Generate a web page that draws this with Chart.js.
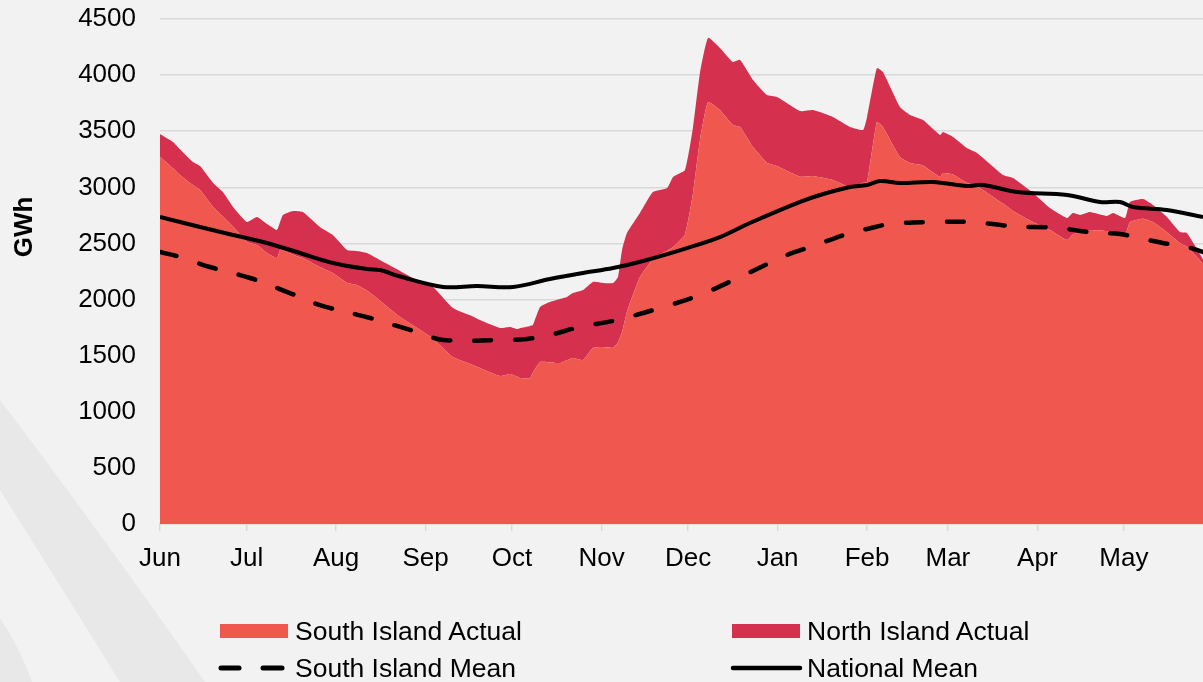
<!DOCTYPE html>
<html>
<head>
<meta charset="utf-8">
<script src="https://cdn.jsdelivr.net/npm/chart.js@4.4.1/dist/chart.umd.min.js"></script>
<style>
  html, body { margin:0; padding:0; background:#F2F2F2; }
  #wrap { position:relative; width:1203px; height:682px; overflow:hidden; background:#F2F2F2;
          font-family:"Liberation Sans", Arial, sans-serif; }
  #bg { position:absolute; left:0; top:0; }
  #c { position:absolute; left:0; top:0; }
  #ylab { position:absolute; left:23px; top:227px; transform:translate(-50%,-50%) rotate(-90deg);
          font-weight:bold; font-size:26px; color:#000; white-space:nowrap; }
  .lt { position:absolute; font-size:26.5px; line-height:30px; color:#000; white-space:nowrap; }
</style>
</head>
<body>
<div id="wrap">
  <svg id="bg" width="1203" height="682">
    <path d="M0 400 Q 95 525 205 682 L 120 682 Q 60 585 0 490 Z" fill="#E8E8E8"/>
    <path d="M0 618 Q 20 648 32 682 L 0 682 Z" fill="#E8E8E8"/>
  </svg>
  <canvas id="c" width="1203" height="682"></canvas>
  <div id="ylab">GWh</div>
  <svg style="position:absolute;left:0;top:0" width="1203" height="682">
    <rect x="220" y="624" width="68" height="14" fill="#F0584F"/>
    <line x1="221" y1="668" x2="239" y2="668" stroke="#000" stroke-width="5" stroke-linecap="round"/>
    <line x1="263" y1="668" x2="282" y2="668" stroke="#000" stroke-width="5" stroke-linecap="round"/>
    <rect x="732" y="624" width="68" height="14" fill="#D5314E"/>
    <line x1="733" y1="668" x2="800" y2="668" stroke="#000" stroke-width="4.5" stroke-linecap="round"/>
  </svg>
  <div class="lt" style="left:295px;top:616px">South Island Actual</div>
  <div class="lt" style="left:807px;top:616px">North Island Actual</div>
  <div class="lt" style="left:295px;top:653px">South Island Mean</div>
  <div class="lt" style="left:807px;top:653px">National Mean</div>
</div>
<script>
// x = days since 1 June
const monthDays = [0, 30, 61, 92, 122, 153, 183, 214, 245, 273, 304, 334];
const monthLabels = ["Jun","Jul","Aug","Sep","Oct","Nov","Dec","Jan","Feb","Mar","Apr","May"];
const yTicks = [0,500,1000,1500,2000,2500,3000,3500,4000,4500];

const actualDays = [0,4.5,6.9,11.4,13.9,18.4,21.8,25.3,30.1,33.6,37.1,40.5,41.6,42.6,46.1,49.5,55.4,59.9,64.8,68.2,71.7,76.2,83.2,90.1,94.6,101.5,108.4,110.9,117.8,121.3,123.7,124.7,128.2,129.2,131.7,135.1,138.6,141.0,143.1,146.6,150.0,153.5,157.0,158.7,160.1,161.8,166.3,170.8,175.7,177.8,181.9,184.7,187.1,189.9,194.0,198.5,201.0,205.5,210.3,213.8,221.8,226.3,233.2,239.1,243.6,245.0,248.4,250.5,256.4,259.9,264.4,270.3,271.3,274.8,279.6,283.1,292.1,295.6,302.5,308.4,314.3,316.3,318.8,322.2,328.1,330.2,334.4,336.1,340.6,344.1,348.9,353.4,355.8,361.4];

const southActual = [3273,3170,3110,3020,2976,2825,2740,2650,2513,2486,2415,2370,2442,2440,2400,2370,2290,2237,2150,2130,2080,1990,1845,1730,1650,1488,1417,1390,1319,1337,1315,1301,1301,1350,1444,1440,1435,1460,1479,1461,1568,1577,1570,1620,1710,1890,2200,2360,2435,2468,2580,2950,3422,3760,3689,3555,3538,3359,3220,3190,3095,3101,3065,3000,3040,3047,3582,3538,3270,3217,3195,3092,3128,3115,3040,3010,2855,2790,2691,2620,2531,2580,2600,2620,2610,2600,2575,2690,2720,2690,2600,2504,2470,2320];

const northActual = [202,234,230,206,214,214,218,175,178,250,258,250,248,314,389,410,357,338,292,303,335,363,410,427,462,437,433,428,428,419,423,444,464,423,490,538,570,563,579,624,589,571,578,581,732,703,571,598,559,624,574,588,597,571,553,562,597,597,602,615,585,588,562,538,471,580,481,490,446,428,405,374,365,334,310,296,255,293,259,196,196,191,154,160,135,171,152,179,176,153,136,98,123,40];

const nationalMeanDays = [0,13.9,25.3,37.1,48.5,59.9,71.7,76.2,83.2,98.1,109.8,122.3,135.1,146.6,157,167.4,182.6,194,204.4,221.8,228.7,239.1,245,249.5,256.4,267.8,279.6,285.2,297,314.3,325.7,332.6,337.1,348.9,361.4];
const nationalMean = [2736,2647,2575,2504,2415,2326,2272,2263,2205,2112,2121,2112,2183,2237,2281,2344,2459,2557,2682,2870,2932,3003,3021,3056,3039,3047,3012,3021,2958,2932,2869,2869,2825,2798,2736];

const southMeanDays = [0,6.9,17.3,31.2,45,55.4,72.8,83.2,90.1,98.1,117.8,127.2,135.1,145.5,158.4,173.3,187.1,201,217.3,225.2,239.1,245,253,267.8,281.7,288.6,297,302.5,311.9,318.8,325.7,332.6,340.6,347.5,355.8,361.4];
const southMean = [2424,2379,2290,2192,2058,1951,1836,1756,1702,1640,1640,1649,1684,1756,1818,1925,2041,2201,2397,2468,2593,2629,2673,2691,2691,2673,2647,2647,2638,2611,2593,2584,2540,2504,2468,2424];

const pts = (xs, ys) => xs.map((x, i) => ({x: x, y: ys[i]}));
const FONT = '"Liberation Sans", Arial, sans-serif';

new Chart(document.getElementById('c'), {
  type: 'line',
  data: {
    datasets: [
      { label: 'South Island Actual', data: pts(actualDays, southActual), stack: 'actual',
        backgroundColor: '#F0584F', borderWidth: 0, pointRadius: 0, fill: 'origin', tension: 0.15, order: 2 },
      { label: 'North Island Actual', data: pts(actualDays, northActual), stack: 'actual',
        backgroundColor: '#D5314E', borderWidth: 0, pointRadius: 0, fill: '-1', tension: 0.15, order: 2 },
      { label: 'South Island Mean', data: pts(southMeanDays, southMean), stack: 'sm',
        borderColor: '#000', borderWidth: 4.5, borderDash: [17, 24], borderCapStyle: 'round',
        pointRadius: 0, fill: false, tension: 0.35, order: 1 },
      { label: 'National Mean', data: pts(nationalMeanDays, nationalMean), stack: 'nm',
        borderColor: '#000', borderWidth: 4, pointRadius: 0, fill: false, tension: 0.35, order: 1 }
    ]
  },
  options: {
    responsive: false,
    animation: false,
    events: [],
    layout: { padding: { top: 0, left: 0, right: 0, bottom: 0 } },
    plugins: { legend: { display: false }, tooltip: { enabled: false } },
    scales: {
      x: {
        type: 'linear', min: 0, max: 361.4,
        afterBuildTicks: (s) => { s.ticks = monthDays.map(v => ({ value: v })); },
        afterFit: (s) => { s.height = 158; },
        ticks: {
          autoSkip: false, maxRotation: 0, padding: 12, color: '#000',
          font: { family: FONT, size: 26 },
          callback: (v) => monthLabels[monthDays.indexOf(v)]
        },
        grid: { drawOnChartArea: false, drawTicks: true, tickLength: 7, color: '#D9D9D9', lineWidth: 1.5 },
        border: { display: true, color: '#D9D9D9', width: 1.5 }
      },
      y: {
        stacked: true, min: 0, max: 4500,
        afterBuildTicks: (s) => { s.ticks = yTicks.map(v => ({ value: v })); },
        afterFit: (s) => { s.width = 160; s.paddingTop = 19; },
        ticks: { padding: 24, color: '#000', font: { family: FONT, size: 26 },
                 callback: (v) => String(v) },
        grid: { color: '#D9D9D9', lineWidth: 1.5, drawTicks: false },
        border: { display: false }
      }
    }
  }
});
</script>
</body>
</html>
